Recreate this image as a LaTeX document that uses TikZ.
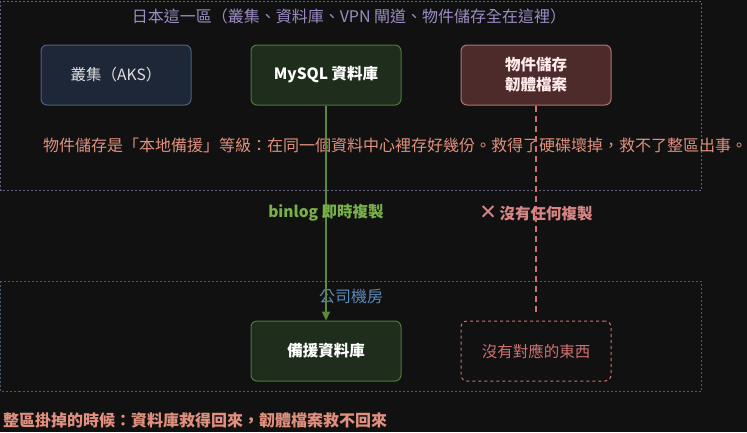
\documentclass[tikz,border=0pt]{standalone}
\usepackage{fontspec}
\setmainfont{Noto Sans CJK TC}
\newfontfamily\symfont{DejaVu Sans}
\usetikzlibrary{arrows.meta}

\definecolor{bgcol}{HTML}{111111}
\definecolor{jpline}{HTML}{6A5A80}
\definecolor{jptext}{HTML}{9C8CC4}
\definecolor{coline}{HTML}{4A5A70}
\definecolor{cotext}{HTML}{5A88B8}
\definecolor{aksfill}{HTML}{1D2738}
\definecolor{aksline}{HTML}{4C6080}
\definecolor{dbfill}{HTML}{1F2E1C}
\definecolor{dbline}{HTML}{4A7A3A}
\definecolor{blobfill}{HTML}{4E2B2B}
\definecolor{blobline}{HTML}{B27272}
\definecolor{warn}{HTML}{E0907E}
\definecolor{nored}{HTML}{D07070}
\definecolor{repl}{HTML}{5A8A3A}
\definecolor{repltext}{HTML}{79B04A}

\begin{document}
\begin{tikzpicture}[x=1pt,y=-1pt,
	box/.style={rectangle, rounded corners=6pt, minimum width=150pt, minimum height=60pt,
		line width=1pt, align=center, font=\fontsize{15.5}{20}\selectfont},
	region/.style={line width=1pt, dash pattern=on 2pt off 2pt},
	txt/.style={font=\fontsize{16}{19}\selectfont, inner sep=0pt}]
	% BACKGROUND AND REGIONS
	\fill[bgcol] (0,0) rectangle (747,432);
	\useasboundingbox (0,0) rectangle (747,432);
	\draw[region, jpline] (0.5,1) rectangle (701,190.5);
	\draw[region, coline] (0.5,281) rectangle (701,391);
	\node[txt, jptext] (jp) at (349,16) {日本這一區（叢集、資料庫、VPN 閘道、物件儲存全在這裡）};
	\node[txt, cotext] (co) at (351,296) {公司機房};
	
	% THE BOXES
	\node[box, fill=aksfill, draw=aksline, text=white!88!black] (aks) at (116,75) {叢集（AKS）};
	\node[box, fill=dbfill, draw=dbline, text=white, font=\fontsize{15.5}{20}\selectfont\bfseries] (mysql) at (326,75) {MySQL 資料庫};
	\node[box, fill=blobfill, draw=blobline, text=white!92!red, font=\fontsize{15.5}{20}\selectfont\bfseries] (blob) at (536,75) {物件儲存\\韌體檔案};
	\node[box, fill=dbfill, draw=dbline, text=white, font=\fontsize{15.5}{20}\selectfont\bfseries] (backup) at (326,351) {備援資料庫};
	\node[box, draw=nored, dash pattern=on 3pt off 3pt, text=nored] (none) at (536,351) {沒有對應的東西};
	
	% THE NOTE
	\node[txt, warn, anchor=west] (note) at (43,145) {物件儲存是「本地備援」等級：在同一個資料中心裡存好幾份。救得了硬碟壞掉，救不了整區出事。};
	
	% THE LINKS
	\draw[repl, line width=1.5pt, -{Triangle[length=9pt,width=8pt]}] (mysql) -- node[txt, repltext, font=\fontsize{15.5}{19}\selectfont\bfseries] {binlog 即時複製} (backup);
	\draw[nored, line width=2pt, dash pattern=on 6pt off 4pt, shorten >=6pt] (blob) -- node[txt, nored!85!white, font=\fontsize{15.5}{19}\selectfont\bfseries] {{\symfont\mdseries\fontsize{21}{19}\selectfont ✕}\,沒有任何複製} (none);
	
	\node[txt, warn, anchor=west, font=\fontsize{16}{19}\selectfont\bfseries] (sum) at (3,420) {整區掛掉的時候：資料庫救得回來，韌體檔案救不回來};
\end{tikzpicture}
\end{document}
